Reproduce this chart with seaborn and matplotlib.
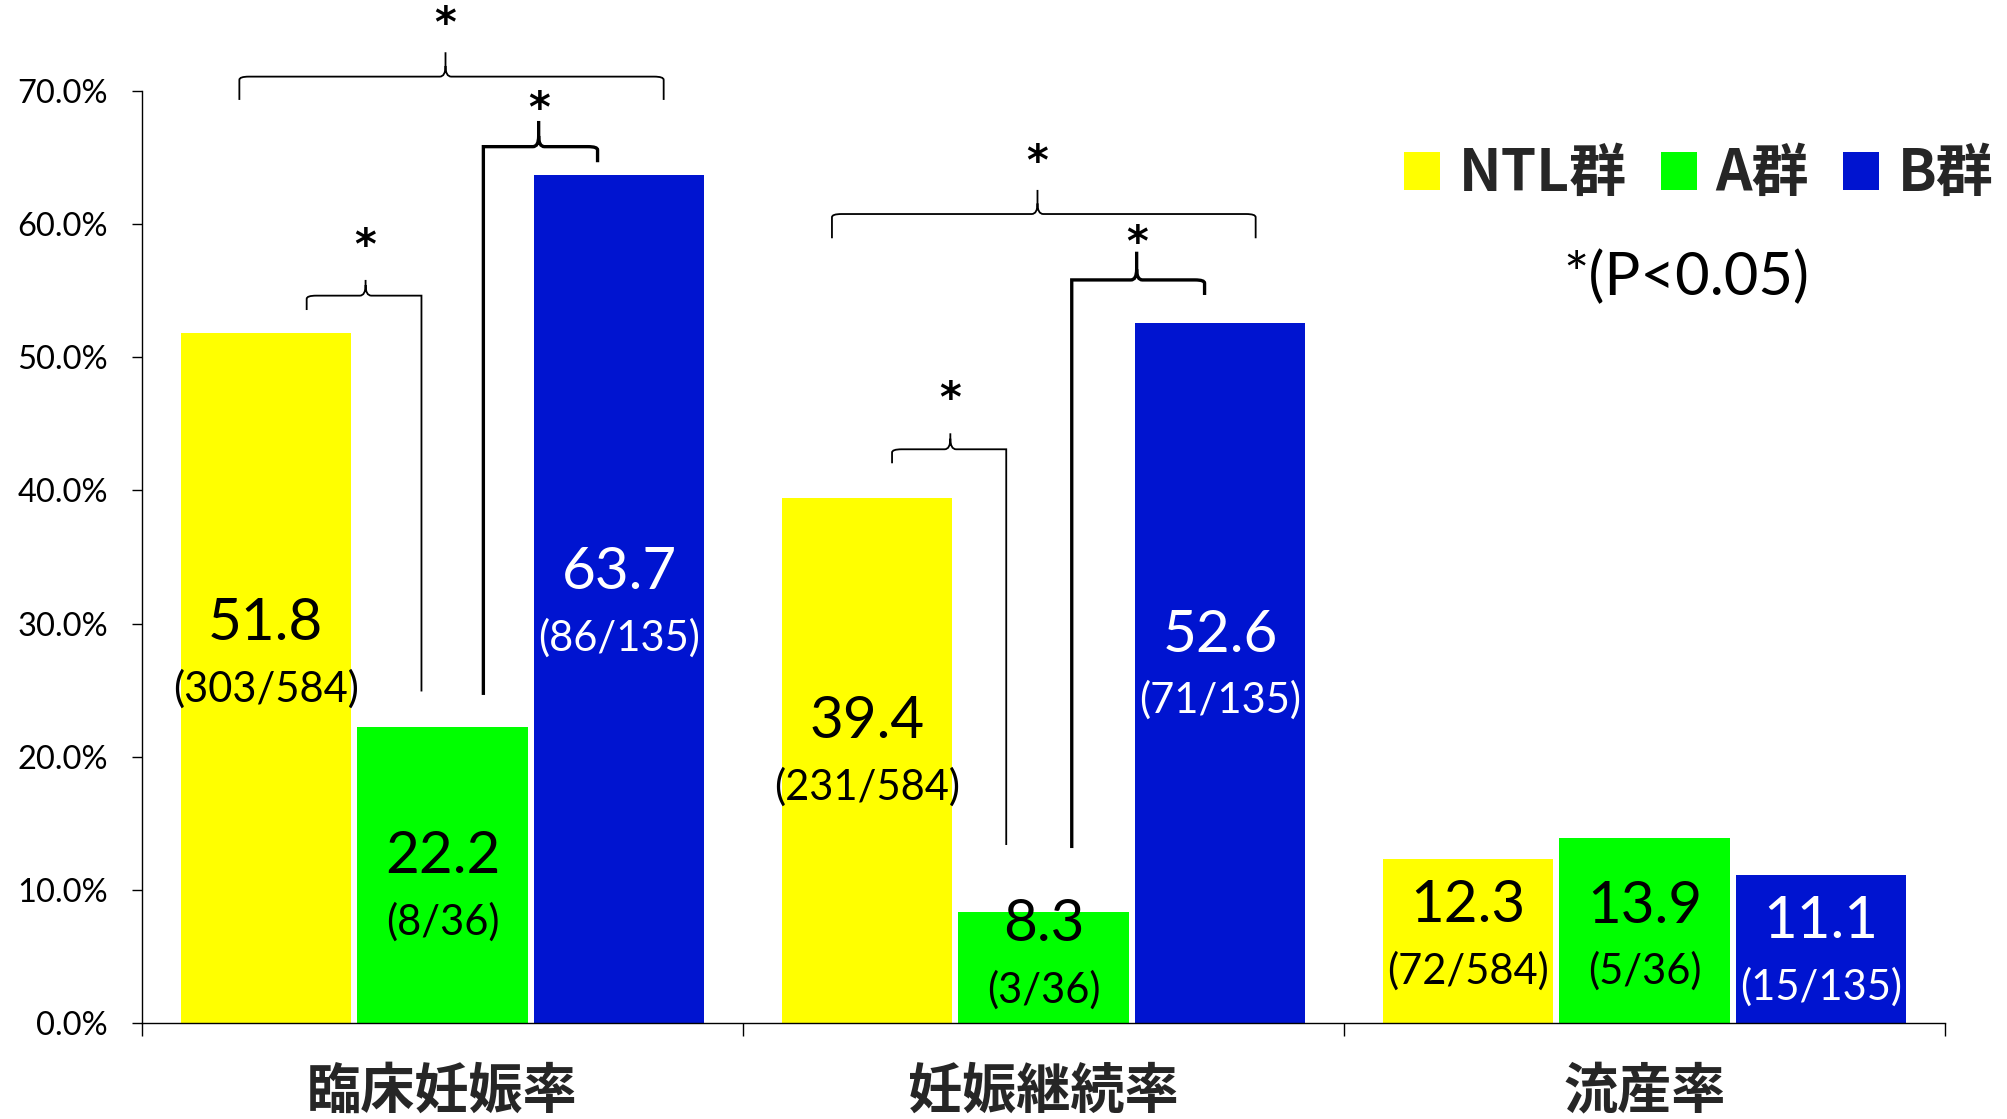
import matplotlib
matplotlib.use("Agg")
import matplotlib.pyplot as plt
import seaborn as sns
import pandas as pd
from matplotlib.path import Path
from matplotlib.patches import PathPatch
from matplotlib.ticker import FuncFormatter, FixedLocator

# ---------------- data ----------------
categories = ['臨床妊娠率', '妊娠継続率', '流産率']
groups = ['NTL群', 'A群', 'B群']
ntl_values = [51.8, 39.4, 12.3]
a_values = [22.2, 8.3, 13.9]
b_values = [63.7, 52.6, 11.1]
ntl_counts = ['(303/584)', '(231/584)', '(72/584)']
a_counts = ['(8/36)', '(3/36)', '(5/36)']
b_counts = ['(86/135)', '(71/135)', '(15/135)']
y_ticks = [0, 10, 20, 30, 40, 50, 60, 70]
p_note = '*(P<0.05)'

group_colors = ['#FFFF00', '#00FF00', '#0014D0']
label_colors = ['black', 'black', 'white']

# small vertical nudges (in % units) of each bar's label pair, per group
label_nudge = [[1.64, 0.48, 0.24],
               [-1.06, 0.77, -0.63],
               [-0.48, 0.38, -0.38]]

# significance brackets:
# (category, x_left, x_right, x_tip, y_bar, y_tip, left_end, right_end, thick, y_star)
brackets = [
    (0, -0.338, 0.368, 0.005, 71.08, 72.91, 69.33, 69.33, False, 75.71),
    (0, 0.068, 0.258, 0.160, 65.82, 67.75, 24.64, 64.65, True, 69.33),
    (0, -0.226, -0.035, -0.128, 54.63, 55.81, 53.55, 24.90, False, 59.04),
    (1, -0.352, 0.353, -0.010, 60.76, 62.57, 58.94, 58.94, False, 65.37),
    (1, 0.047, 0.268, 0.155, 55.81, 57.93, 13.14, 54.68, True, 59.31),
    (1, -0.252, -0.062, -0.155, 43.09, 44.29, 42.04, 13.37, False, 47.54),
]

df = pd.DataFrame({
    'category': categories * 3,
    'group': [g for g in groups for _ in categories],
    'value': ntl_values + a_values + b_values,
})
count_labels = [ntl_counts, a_counts, b_counts]

# ---------------- style ----------------
sns.set_theme(style='white')
plt.rcParams['font.family'] = ['Lato', 'Noto Sans CJK JP', 'DejaVu Sans']
CJK = ['Noto Sans CJK JP', 'DejaVu Sans']

fig = plt.figure(figsize=(20.08, 11.19), dpi=100)
ax = fig.add_axes([142 / 2008, 1 - 1023 / 1119, (1945 - 142) / 2008, (1023 - 91) / 1119])

sns.barplot(data=df, x='category', y='value', hue='group', order=categories,
            hue_order=groups, palette=group_colors, saturation=1,
            width=0.882, gap=0.037, linewidth=0, ax=ax, legend=True)

ax.set_xlim(-0.5, 2.5)
ax.set_ylim(0, 70)
ax.set_xlabel('')
ax.set_ylabel('')

# spines
for s in ['top', 'right']:
    ax.spines[s].set_visible(False)
for s in ['left', 'bottom']:
    ax.spines[s].set_color('black')
    ax.spines[s].set_linewidth(1.0)

# y ticks
ax.yaxis.set_major_locator(FixedLocator(y_ticks))
ax.yaxis.set_major_formatter(FuncFormatter(lambda v, _: f'{v:.1f}%'))
ax.tick_params(axis='y', which='major', direction='out', length=7.5, width=1.0,
               color='black', left=True, pad=17, labelsize=23.5, labelcolor='black')

# x ticks: labels at centres, tick marks at category boundaries
ax.set_xticks(range(len(categories)))
ax.set_xticklabels(categories, fontsize=39, fontweight='bold', family=CJK)
ax.tick_params(axis='x', which='major', length=0, pad=30)
ax.set_xticks([-0.5, 0.5, 1.5, 2.5], minor=True)
ax.tick_params(axis='x', which='minor', direction='out', length=9, width=1.0,
               color='black', bottom=True)

# bar labels
for gi, cont in enumerate(ax.containers):
    for ci, bar in enumerate(cont):
        xc = bar.get_x() + bar.get_width() / 2
        h = bar.get_height()
        yc = h / 2 + label_nudge[gi][ci]
        ax.annotate(f'{h:.1f}', (xc, yc), xytext=(0, 23.5), textcoords='offset points',
                    ha='center', va='center', fontsize=42, color=label_colors[gi])
        ax.annotate(count_labels[gi][ci], (xc, yc), xytext=(0, -23.5),
                    textcoords='offset points', ha='center', va='center',
                    fontsize=30, color=label_colors[gi])

# brackets
rx, ry = 0.016, 0.8
for cat, xl, xr, xt, yb, yt, le, re_, thick, ys in brackets:
    xl += cat; xr += cat; xt += cat
    verts, codes = [], []
    verts.append((xl, le)); codes.append(Path.MOVETO)
    if abs(yb - le) < 3:
        verts += [(xl, yb - ry * 0.3), (xl, yb), (xl + rx, yb)]
        codes += [Path.LINETO, Path.CURVE3, Path.CURVE3]
    else:
        verts.append((xl, yb)); codes.append(Path.LINETO)
    verts += [(xt - rx * 0.6, yb), (xt, yb), (xt, yb + ry), (xt, yt)]
    codes += [Path.LINETO, Path.CURVE3, Path.CURVE3, Path.LINETO]
    verts += [(xt, yb + ry), (xt, yb), (xt + rx * 0.6, yb)]
    codes += [Path.MOVETO, Path.CURVE3, Path.CURVE3]
    if abs(yb - re_) < 3:
        verts += [(xr - rx, yb), (xr, yb), (xr, yb - ry * 0.3), (xr, re_)]
        codes += [Path.LINETO, Path.CURVE3, Path.CURVE3, Path.LINETO]
    else:
        verts += [(xr, yb), (xr, re_)]
        codes += [Path.LINETO, Path.LINETO]
    patch = PathPatch(Path(verts, codes), fill=False, edgecolor='black',
                      lw=2.4 if thick else 1.3, clip_on=False, capstyle='butt',
                      joinstyle='miter')
    ax.add_patch(patch)
    # asterisk glyph sits above the baseline; shift so its centre lands at ys
    ax.annotate('*', (xt, ys), xytext=(0, -16), textcoords='offset points',
                ha='center', va='baseline', fontsize=30, fontweight='bold',
                family=['DejaVu Sans'], color='black', annotation_clip=False)

# legend
handles, labels = ax.get_legend_handles_labels()
ax.legend(handles, labels, loc='center left', ncol=3, frameon=False,
          bbox_to_anchor=(1404 / 2008, 1 - 174 / 1119), bbox_transform=fig.transFigure,
          prop={'family': CJK, 'weight': 'bold', 'size': 41},
          handlelength=0.63, handleheight=0.63, handletextpad=0.33,
          columnspacing=0.6, borderpad=0, borderaxespad=0)

fig.text(1686 / 2008, 1 - 277 / 1119, p_note, ha='center', va='center', fontsize=43,
         color='black')

fig.savefig('out.png', dpi=100)
